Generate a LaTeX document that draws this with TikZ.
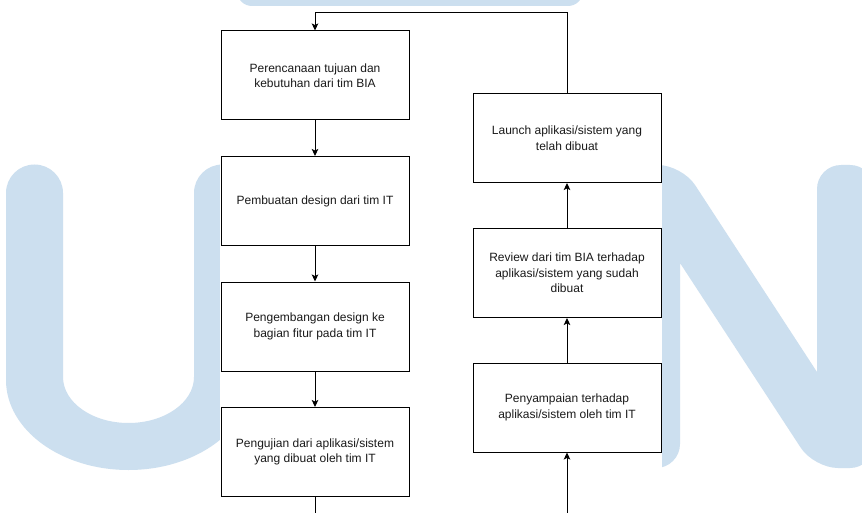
\documentclass[tikz,border=0pt]{standalone}
\usepackage{fontspec}
\setmainfont{Liberation Sans}
\usetikzlibrary{arrows.meta}
\definecolor{wm}{HTML}{CCDFEF}
\definecolor{txt}{HTML}{1A1A1A}
\begin{document}
\begin{tikzpicture}[x=1pt,y=-1pt,
  stepbox/.style={draw=black,fill=white,line width=1pt,minimum width=188pt,minimum height=89pt,
    inner sep=0pt,align=center,text=txt,font=\fontsize{12}{15.5}\selectfont},
  conn/.style={draw=black,line width=1pt,-{Stealth[length=7pt,width=6.5pt,inset=1.5pt]}},
  plain/.style={draw=black,line width=1pt}]
\useasboundingbox (0,0) rectangle (862,513);
\fill[white] (0,0) rectangle (862,513);
% watermark
\begin{scope}
\clip (0,0) rectangle (862,513);
\fill[wm] (237,-30) [rounded corners=15pt] -- (237,6) -- (583,6) [sharp corners] -- (583,-30) -- cycle;
\fill[wm] (6,193) arc[start angle=180,end angle=360,radius=28.5]
  -- (63,377) arc[start angle=180,end angle=0,x radius=65.5,y radius=46]
  -- (194,193) arc[start angle=180,end angle=360,radius=28.5]
  -- (251,380) arc[start angle=0,end angle=180,x radius=122.5,y radius=90] -- cycle;
\fill[wm] (623,300) [rounded corners=24pt] -- (623,165) -- (682,165) [sharp corners] -- (817,372)
  [rounded corners=24pt] -- (817,165) -- (874,165) -- (874,468) -- (814,468) [sharp corners]
  -- (680,263) [rounded corners=24pt] -- (680,468) -- (623,468) -- cycle;
\end{scope}
\fill[white] (220,6) rectangle (661.5,513);
% boxes
\node[stepbox] (b1) at (315,75.5) {Perencanaan tujuan dan\\kebutuhan dari tim BIA};
\node[stepbox] (b2) at (315,201) {Pembuatan design dari tim IT};
\node[stepbox] (b3) at (315,326.5) {Pengembangan design ke\\bagian fitur pada tim IT};
\node[stepbox] (b4) at (315,452) {Pengujian dari aplikasi/sistem\\yang dibuat oleh tim IT};
\node[stepbox] (r1) at (567,138) {Launch aplikasi/sistem yang\\telah dibuat};
\node[stepbox] (r2) at (567,273) {Review dari tim BIA terhadap\\aplikasi/sistem yang sudah\\dibuat};
\node[stepbox] (r3) at (567,407.5) {Penyampaian terhadap\\aplikasi/sistem oleh tim IT};
% connectors
\coordinate (tl) at (315,13);
\coordinate (tr) at (567,13);
\coordinate (bl) at (315,513);
\coordinate (br) at (567,513);
\draw[conn] (r1.north) -- (tr) -- (tl) -- (b1.north);
\draw[conn] (b1) -- (b2);
\draw[conn] (b2) -- (b3);
\draw[conn] (b3) -- (b4);
\draw[plain] (b4.south) -- (bl);
\draw[conn] (br) -- (r3.south);
\draw[conn] (r3) -- (r2);
\draw[conn] (r2) -- (r1);
\end{tikzpicture}
\end{document}
